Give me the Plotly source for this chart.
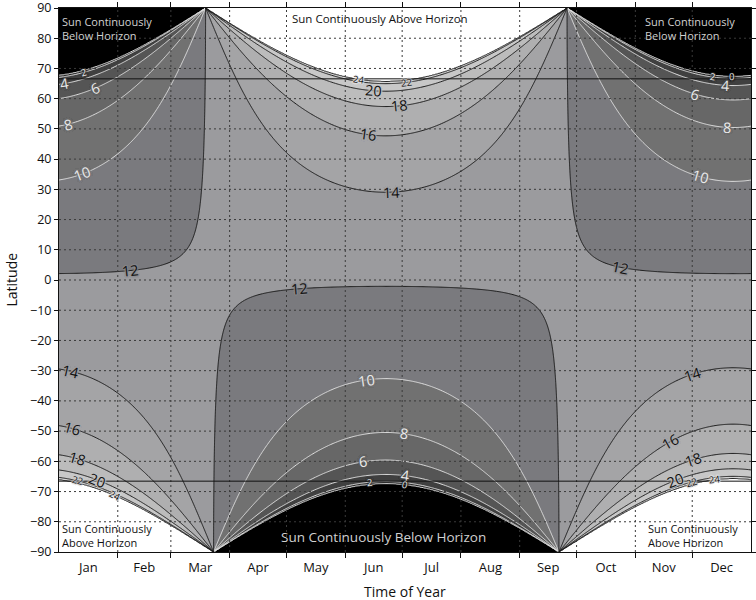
import numpy as np
import plotly.graph_objects as go

# ---- data / parameters ----
month_labels = ["Jan", "Feb", "Mar", "Apr", "May", "Jun", "Jul", "Aug", "Sep", "Oct", "Nov", "Dec"]
month_starts = [0, 31, 59, 90, 120, 151, 181, 212, 243, 273, 304, 334, 365]
lat_ticks = list(range(-90, 91, 10))
contour_levels = list(range(0, 25, 2))          # hours of daylight
band_colors = ["#000000", "#2b2b2b", "#404040", "#555555", "#676767", "#717171", "#7a7a7e",
               "#9b9b9e", "#a4a4a6", "#afafb0", "#bcbcbc", "#c8c8c8", "#d6d6d6", "#ffffff"]
OBLIQUITY = 23.44          # deg
SUNRISE_ALT = -0.833       # deg, refraction + solar disc
POLAR_CIRCLE = 66.56       # deg

# contour label placement: (day, approx latitude, level)
label_spots = [
    (157.9, 66.8, 24), (183.7, 64.9, 22), (165.8, 62.6, 20), (179.5, 57.6, 18), (163.1, 48.1, 16), (175.3, 28.9, 14),
    (12.8, 68.2, 2), (2.8, 64.6, 4), (19.1, 62.9, 6), (4.9, 51.0, 8), (12.3, 34.8, 10),
    (354.6, 68.5, 0), (344.6, 66.6, 2), (351.4, 63.9, 4), (335.6, 60.9, 6), (352.5, 50.0, 8), (338.3, 33.5, 10),
    (37.6, 2.8, 12), (126.8, -2.8, 12), (296.1, 2.5, 12),
    (162.1, -33.2, 10), (182.1, -51.4, 8), (160.5, -60.3, 6), (183.2, -65.2, 4), (164.2, -66.5, 2), (182.1, -68.5, 0),
    (6.0, -32.5, 14), (7.0, -53.0, 16), (9.7, -60.3, 18), (20.7, -67.2, 20), (10.2, -66.2, 22), (29.7, -73.2, 24),
    (334.0, -31.9, 14), (322.4, -53.7, 16), (334.5, -59.9, 18), (325.1, -67.2, 20), (333.5, -66.9, 22), (346.2, -67.2, 24),
]

days = np.arange(0, 365.01, 0.5)
lats = np.arange(-90, 90.01, 0.25)

# solar declination (deg) for each day
arg = np.radians(0.98565 * (days + 10) + 1.914 * np.sin(np.radians(0.98565 * (days - 2))))
decl = -np.degrees(np.arcsin(np.sin(np.radians(OBLIQUITY)) * np.cos(arg)))

D, L = np.meshgrid(np.radians(decl), np.radians(lats))
cosH = (np.sin(np.radians(SUNRISE_ALT)) - np.sin(L) * np.sin(D)) / (np.cos(L) * np.cos(D))
hours = 24 / np.pi * np.arccos(np.clip(cosH, -1, 1))
ext_night = -24 / np.pi * np.sqrt(2 * np.clip(cosH - 1, 0, 1))
ext_day = 24 / np.pi * np.sqrt(2 * np.clip(-1 - cosH, 0, 1))
z = np.where(cosH > 1, ext_night, np.where(cosH < -1, 24 + ext_day, hours))
z = np.clip(z, -3, 27)

start, end, step = contour_levels[0], contour_levels[-1], contour_levels[1] - contour_levels[0]
n_bands = len(band_colors)
colorscale = [[i / (n_bands - 1), c] for i, c in enumerate(band_colors)]

FONT = "Open Sans"
W, H = 756, 600
ML, MR, MT, MB = 59, 5, 8, 48
px_per_day = (W - ML - MR) / 365.0
px_per_deg = (H - MT - MB) / 180.0

fig = go.Figure()
fig.add_trace(go.Contour(
    x=days, y=lats, z=z, colorscale=colorscale, showscale=False, hoverinfo="skip",
    autocontour=False, contours=dict(start=start, end=end, size=step, coloring="fill", showlines=False),
    line=dict(width=0), showlegend=False,
))

def line_trace(lo, hi, color):
    return go.Contour(
        x=days, y=lats, z=z, showscale=False, hoverinfo="skip", autocontour=False, showlegend=False,
        contours=dict(start=lo, end=hi, size=step, coloring="none"),
        line=dict(color=color, width=1),
    )

fig.add_trace(line_trace(0, 10, "#e2e2e2"))
fig.add_trace(line_trace(12, 24, "#1a1a1a"))

grid_style = dict(color="#3a3a3a", width=1, dash="2px,3px")
for d in month_starts[1:-1]:
    fig.add_shape(type="line", xref="x", yref="y", x0=d, x1=d, y0=-90, y1=90, line=grid_style, layer="above")
for la in lat_ticks[1:-1]:
    fig.add_shape(type="line", xref="x", yref="y", x0=0, x1=365, y0=la, y1=la, line=grid_style, layer="above")
for y in (POLAR_CIRCLE, -POLAR_CIRCLE):
    fig.add_shape(type="line", xref="x", yref="y", x0=0, x1=365, y0=y, y1=y,
                  line=dict(color="#111111", width=1), layer="above")

# contour labels: snap onto the computed contour and rotate along it
def hex2rgb(h):
    return np.array([int(h[i:i + 2], 16) for i in (1, 3, 5)], dtype=float)

dz_dlat, dz_dday = np.gradient(z, lats, days)
for d, lg, v in label_spots:
    c = int(np.argmin(np.abs(days - d)))
    col = z[:, c]
    best = lg
    s = (col[:-1] - v) * (col[1:] - v)
    idx = np.where(s <= 0)[0]
    if len(idx):
        cands = []
        for i in idx:
            t = (v - col[i]) / (col[i + 1] - col[i]) if col[i + 1] != col[i] else 0
            cands.append(lats[i] + t * (lats[i + 1] - lats[i]))
        cands = np.array(cands)
        j = int(np.argmin(np.abs(cands - lg)))
        if abs(cands[j] - lg) < 8:
            best = cands[j]
    r = int(np.argmin(np.abs(lats - best)))
    gx, gy = dz_dday[r, c], dz_dlat[r, c]
    t_day, t_lat = gy, -gx            # direction along the contour
    sx, sy = t_day * px_per_day, -t_lat * px_per_deg
    ang = np.degrees(np.arctan2(sy, sx))
    if ang > 90:
        ang -= 180
    if ang < -90:
        ang += 180
    small = v in (0, 2, 22, 24)
    bg = (hex2rgb(band_colors[v // 2]) + hex2rgb(band_colors[v // 2 + 1])) / 2
    bgc = "rgb(%d,%d,%d)" % tuple(bg.astype(int))
    halo = ", ".join(["0 0 2px " + bgc] * 6)
    fcol = "#eaeaea" if v < 12 else "#111111"
    fig.add_annotation(x=days[c], y=best, xref="x", yref="y", text=str(v), showarrow=False,
                       textangle=float(ang), borderpad=0,
                       font=dict(family=FONT, size=9.5 if small else 14.5, color=fcol, shadow=halo))

notes = [
    (0.7, 83.1, "Sun Continuously<br>Below Horizon", "#d0d0d0"),
    (308.0, 83.1, "Sun Continuously<br>Below Horizon", "#d0d0d0"),
    (0.7, -84.5, "Sun Continuously<br>Above Horizon", "#111111"),
    (309.7, -84.5, "Sun Continuously<br>Above Horizon", "#111111"),
]
for x, y, t, col in notes:
    fig.add_annotation(x=x, y=y, xref="x", yref="y", text=t, showarrow=False, align="left",
                       xanchor="left", yanchor="middle", font=dict(family=FONT, size=11, color=col))
fig.add_annotation(x=169.5, y=86.5, xref="x", yref="y", text="Sun Continuously Above Horizon",
                   showarrow=False, font=dict(family=FONT, size=11.5, color="#111111"))
fig.add_annotation(x=171, y=-84.9, xref="x", yref="y", text="Sun Continuously Below Horizon",
                   showarrow=False, font=dict(family=FONT, size=13.5, color="#d0d0d0"))
fig.add_annotation(x=-0.07, y=0.5, xref="paper", yref="paper", text="Latitude", showarrow=False,
                   textangle=-90, xanchor="center", yanchor="middle",
                   font=dict(family=FONT, size=14, color="#111111"))
fig.add_annotation(x=0.5, y=-0.072, xref="paper", yref="paper", text="Time of Year", showarrow=False,
                   xanchor="center", yanchor="middle", font=dict(family=FONT, size=14, color="#111111"))

month_centers = [(a + b) / 2 for a, b in zip(month_starts[:-1], month_starts[1:])]
fig.update_layout(
    width=W, height=H, margin=dict(l=ML, r=MR, t=MT, b=MB),
    paper_bgcolor="white", plot_bgcolor="white", showlegend=False,
    font=dict(family=FONT, size=13, color="#111111"),
    xaxis=dict(range=[0, 365], tickmode="array", tickvals=month_centers, ticktext=month_labels,
               ticks="", showgrid=False, showline=True, linecolor="#111111", linewidth=1, mirror="ticks",
               zeroline=False, automargin=False, tickfont=dict(size=13), layer="above traces",
               ticklabelstandoff=3, ticklabeloverflow="allow",
               minor=dict(tickmode="array", tickvals=month_starts[1:-1], ticks="outside", ticklen=5,
                          tickcolor="#111111", showgrid=False)),
    yaxis=dict(range=[-90, 90], tickmode="array", tickvals=lat_ticks, ticks="outside", ticklen=4,
               tickcolor="#111111", showgrid=False, showline=True, linecolor="#111111", linewidth=1,
               mirror="ticks", zeroline=False, automargin=False, tickfont=dict(size=12.5),
               layer="above traces", ticklabeloverflow="allow"),
)

fig.write_html("out.html", config={"displayModeBar": False},
               post_script="document.body.style.margin='0px';")
